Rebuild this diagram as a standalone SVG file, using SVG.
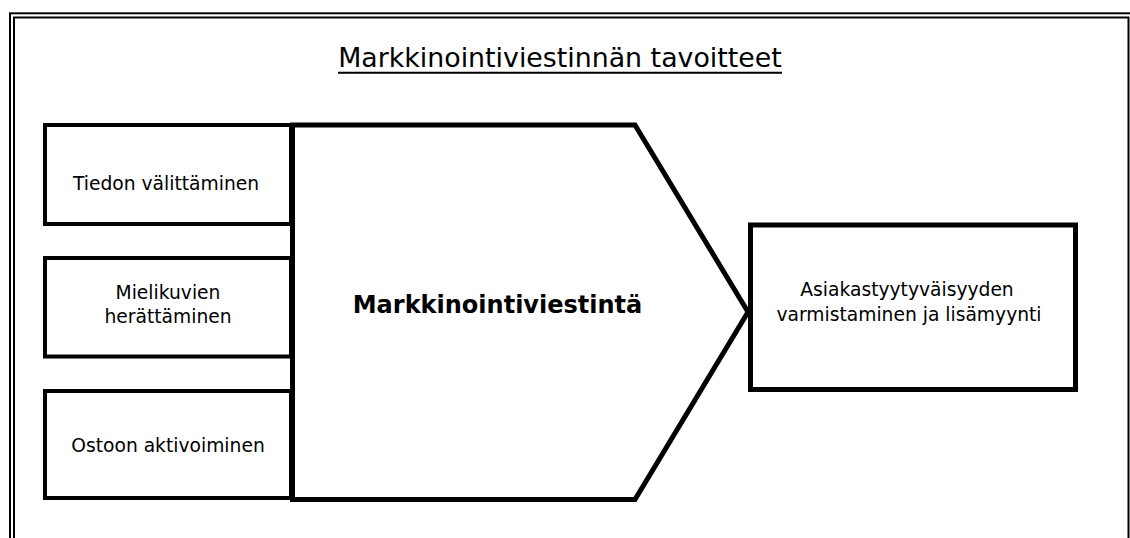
<svg xmlns="http://www.w3.org/2000/svg" width="1130" height="538" viewBox="0 0 1130 538">
<style>
.frame{fill:none;stroke:#000;stroke-width:2}
.box{fill:#fff;stroke:#000;stroke-width:4}
.big{fill:#fff;stroke:#000;stroke-width:5;stroke-linejoin:miter}
.t{font-family:"DejaVu Sans",Verdana,sans-serif;font-size:18.7px;fill:#000;text-anchor:middle}
.title{font-family:"DejaVu Sans",Verdana,sans-serif;font-size:26.8px;fill:#000;text-anchor:middle}
.bold{font-family:"DejaVu Sans",Verdana,sans-serif;font-size:24px;font-weight:bold;fill:#000;text-anchor:middle}
</style>
<rect width="1130" height="538" fill="#fff"/>
<g id="frame">
<rect class="frame" x="10" y="13.3" width="1130" height="540"/>
<rect class="frame" x="14" y="17.5" width="1114.5" height="540"/>
</g>
<g id="title">
<text class="title" x="560" y="67">Markkinointiviestinnän tavoitteet</text>
<line x1="338" y1="72.8" x2="782" y2="72.8" stroke="#000" stroke-width="2"/>
</g>
<g id="connectors"></g>
<g id="node-tiedon">
<rect class="box" x="45" y="125" width="246" height="99"/>
<text class="t" x="166" y="190">Tiedon välittäminen</text>
</g>
<g id="node-mielikuvien">
<rect class="box" x="45" y="258" width="246" height="98.5"/>
<text class="t" x="168" y="299">Mielikuvien</text>
<text class="t" x="168" y="322.5">herättäminen</text>
</g>
<g id="node-ostoon">
<rect class="box" x="45" y="391" width="246" height="107"/>
<text class="t" x="168" y="451.5">Ostoon aktivoiminen</text>
</g>
<g id="node-markkinointiviestinta">
<polygon class="big" points="292.5,125 635,125 748,312 635,499.5 292.5,499.5"/>
<text class="bold" x="497.5" y="313">Markkinointiviestintä</text>
</g>
<g id="node-asiakas">
<rect class="big" x="750.5" y="225" width="325" height="164.5"/>
<text class="t" x="907" y="296">Asiakastyytyväisyyden</text>
<text class="t" x="909" y="320.5">varmistaminen ja lisämyynti</text>
</g>
</svg>
